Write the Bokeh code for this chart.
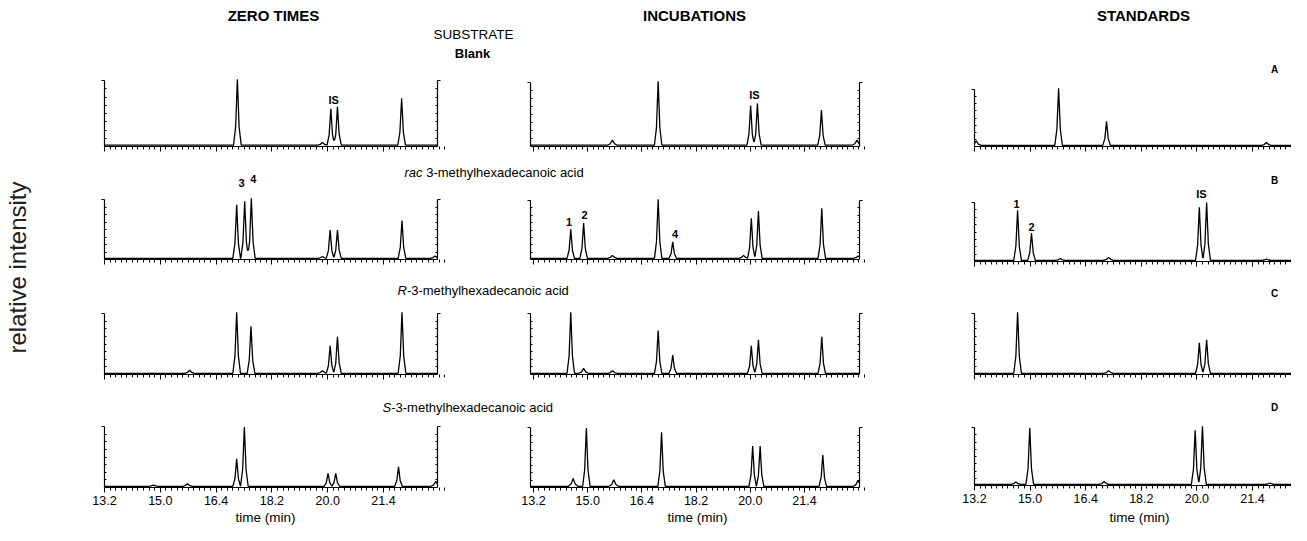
import math
from bokeh.plotting import figure
from bokeh.models import (Range1d, LinearAxis, FixedTicker, CustomJSTickFormatter,
                          Label, ColumnDataSource)
from bokeh.core.properties import value
from bokeh.embed import file_html
from bokeh.resources import INLINE

FONT = "Liberation Sans"

# ---------------- data ----------------
column_titles = ["ZERO TIMES", "INCUBATIONS", "STANDARDS"]
row_letters = ["A", "B", "C", "D"]
tick_pos = [13.2, 14.8, 16.4, 18.0, 19.6, 21.2]
tick_labels = ["13.2", "15.0", "16.4", "18.2", "20.0", "21.4"]

# peak retention times (min) and relative heights per panel
A1_t = [17.01, 19.45, 19.69, 19.88, 21.72]
A1_h = [1.00, 0.04, 0.55, 0.58, 0.71]
A2_t = [15.53, 16.88, 19.61, 19.81, 21.70, 22.75]
A2_h = [0.08, 1.00, 0.62, 0.65, 0.55, 0.08]
A3_t = [13.25, 15.62, 17.00, 21.60]
A3_h = [0.08, 1.00, 0.42, 0.05]

B1_t = [16.99, 17.22, 17.41, 19.45, 19.67, 19.88, 21.73, 22.68]
B1_h = [0.89, 0.95, 1.00, 0.03, 0.47, 0.47, 0.63, 0.04]
B2_t = [14.30, 14.68, 15.53, 16.88, 17.31, 19.40, 19.63, 19.84, 21.71, 22.78]
B2_h = [0.49, 0.60, 0.05, 1.00, 0.28, 0.05, 0.68, 0.80, 0.85, 0.04]
B3_t = [14.44, 14.84, 15.67, 17.06, 19.67, 19.88, 21.60]
B3_h = [0.85, 0.46, 0.03, 0.05, 0.90, 0.98, 0.02]

C1_t = [15.64, 16.99, 17.40, 19.45, 19.67, 19.88, 21.73]
C1_h = [0.05, 1.00, 0.77, 0.04, 0.45, 0.60, 1.00]
C2_t = [14.30, 14.68, 15.53, 16.88, 17.31, 19.63, 19.84, 21.71]
C2_h = [1.00, 0.08, 0.04, 0.70, 0.30, 0.45, 0.55, 0.60]
C3_t = [14.44, 17.06, 19.67, 19.88]
C3_h = [1.00, 0.04, 0.50, 0.55]

D1_t = [14.60, 15.58, 16.99, 17.21, 19.61, 19.83, 21.63, 22.70]
D1_h = [0.02, 0.04, 0.45, 0.97, 0.21, 0.21, 0.32, 0.08]
D2_t = [14.37, 14.76, 15.57, 16.98, 19.67, 19.89, 21.74, 22.78]
D2_h = [0.13, 0.97, 0.11, 0.90, 0.67, 0.67, 0.52, 0.10]
D3_t = [14.39, 14.79, 16.93, 19.55, 19.76, 21.70]
D3_h = [0.04, 0.97, 0.05, 0.93, 1.00, 0.02]

# peak labels per panel
A1_lab, A1_lt, A1_ly = ["IS"], [19.77], [0.70]
A2_lab, A2_lt, A2_ly = ["IS"], [19.72], [0.80]
B1_lab, B1_lt, B1_ly = ["3", "4"], [17.13, 17.47], [1.27, 1.34]
B2_lab, B2_lt, B2_ly = ["1", "2", "4"], [14.25, 14.71, 17.38], [0.64, 0.76, 0.44]
B3_lab, B3_lt, B3_ly = ["1", "2", "IS"], [14.41, 14.84, 19.73], [0.98, 0.58, 1.15]

# ---------------- layout (pixels inside the figure) ----------------
W, H = 1291, 525
col_x0 = [104, 533, 974]
col_step = [55.8, 54.2, 55.6]
col_lo = [13.2, 13.1, 13.2]
col_hi = [22.75, 22.82, 23.5]
col_right_axis = [True, True, False]
base_px = [[146, 146, 146], [259, 259, 261], [374, 374, 374], [487, 487, 485]]
top_px = [[80, 82, 89], [199, 200, 202], [313, 313, 313], [426, 427, 427]]

panels = {
    "A1": (A1_t, A1_h), "A2": (A2_t, A2_h), "A3": (A3_t, A3_h),
    "B1": (B1_t, B1_h), "B2": (B2_t, B2_h), "B3": (B3_t, B3_h),
    "C1": (C1_t, C1_h), "C2": (C2_t, C2_h), "C3": (C3_t, C3_h),
    "D1": (D1_t, D1_h), "D2": (D2_t, D2_h), "D3": (D3_t, D3_h),
}
peak_labels = {
    "A1": (A1_lab, A1_lt, A1_ly), "A2": (A2_lab, A2_lt, A2_ly),
    "B1": (B1_lab, B1_lt, B1_ly), "B2": (B2_lab, B2_lt, B2_ly),
    "B3": (B3_lab, B3_lt, B3_ly),
}

extra_x = {}
for c in range(3):
    k = W * 1.6 / col_step[c]
    start = 13.2 - col_x0[c] * 1.6 / col_step[c]
    extra_x["c%d" % (c + 1)] = Range1d(start, start + k)
extra_y = {}
for r in range(4):
    for c in range(3):
        b, t = base_px[r][c], top_px[r][c]
        extra_y["%s%d" % (row_letters[r], c + 1)] = Range1d(-(H - b) / (b - t), b / (b - t))

p = figure(width=W, height=H, x_range=Range1d(0, W), y_range=Range1d(H, 0),
           x_axis_type=None, y_axis_type=None, toolbar_location=None,
           output_backend="svg", min_border=0, outline_line_color=None,
           extra_x_ranges=extra_x, extra_y_ranges=extra_y)
p.background_fill_color = "white"
p.border_fill_color = "white"

# peak profile: narrow apex with a slightly wider foot (fractions of the half width)
PROFILE_X = [-1.0, -0.45, 0.0, 0.45, 1.0]
PROFILE_Y = [0.0, 0.28, 1.0, 0.28, 0.0]


def peak_val(x, t, h, w):
    u = (x - t) / w
    if u <= -1 or u >= 1:
        return 0.0
    for i in range(len(PROFILE_X) - 1):
        if PROFILE_X[i] <= u <= PROFILE_X[i + 1]:
            f = (u - PROFILE_X[i]) / (PROFILE_X[i + 1] - PROFILE_X[i])
            return h * (PROFILE_Y[i] + f * (PROFILE_Y[i + 1] - PROFILE_Y[i]))
    return 0.0


def trace(ts, hs, t0, t1, base=0.02):
    ws = [0.11 if h > 0.15 else 0.14 for h in hs]
    xs = {t0, t1}
    for t, w in zip(ts, ws):
        xs |= {t + w * u for u in PROFILE_X}
    xs = sorted(x for x in xs if t0 <= x <= t1)
    ys = [base + sum(peak_val(x, t, h, w) for t, h, w in zip(ts, hs, ws)) for x in xs]
    return xs, ys


minor = [round(13.2 + 0.16 * i, 2) for i in range(62)]
minor = [m for m in minor if all(abs(m - t) > 1e-6 for t in tick_pos)]
blank_fmt = CustomJSTickFormatter(code="return ''")


def side_axis(xr, key, loc):
    return LinearAxis(x_range_name=xr, y_range_name=key, fixed_location=loc, bounds=(0, 1),
                      ticker=FixedTicker(ticks=[1.0], minor_ticks=[i / 8 for i in range(1, 8)]),
                      formatter=blank_fmt, major_tick_out=3, major_tick_in=0,
                      minor_tick_in=2, minor_tick_out=0,
                      axis_line_color="black", axis_line_width=1.2,
                      major_tick_line_color="black", minor_tick_line_color="black")


for r in range(4):
    for c in range(3):
        key = "%s%d" % (row_letters[r], c + 1)
        xr = "c%d" % (c + 1)
        lo, hi = col_lo[c], col_hi[c]
        ts, hs = panels[key]
        xs, ys = trace(ts, hs, lo, min(hi, extra_x[xr].end))
        p.line(xs, ys, x_range_name=xr, y_range_name=key, line_color="black", line_width=1.3)

        labels = tick_labels if r == 3 else [""] * len(tick_labels)
        bx = LinearAxis(x_range_name=xr, y_range_name=key, fixed_location=0, bounds=(lo, hi),
                        ticker=FixedTicker(ticks=tick_pos, minor_ticks=minor),
                        formatter=CustomJSTickFormatter(args=dict(labels=labels),
                                                        code="return labels[index]"),
                        major_tick_out=5, major_tick_in=0, minor_tick_out=3, minor_tick_in=0,
                        axis_line_color="black", axis_line_width=1.2,
                        major_tick_line_color="black", minor_tick_line_color="black",
                        major_label_text_font=FONT, major_label_text_font_size="12.5px",
                        major_label_text_color="black", major_label_standoff=3)
        p.add_layout(bx, "below")
        p.add_layout(side_axis(xr, key, lo), "left")
        if col_right_axis[c]:
            p.add_layout(side_axis(xr, key, hi), "right")

        if key in peak_labels:
            lab_, lt, ly = peak_labels[key]
            src = ColumnDataSource(dict(t=lt, y=ly, txt=lab_))
            p.text(x="t", y="y", text="txt", source=src, x_range_name=xr, y_range_name=key,
                   text_font=value(FONT), text_font_style="bold", text_font_size="11px",
                   text_align="center", text_baseline="middle", text_color="black")


def lab(x, y, text, size="13px", style="normal", align="center", baseline="middle", angle=0.0,
        color="black"):
    p.add_layout(Label(x=x, y=y, text=text, text_font=FONT, text_font_size=size,
                       text_font_style=style, text_align=align, text_baseline=baseline,
                       angle=angle, text_color=color))


title_x = [273, 694, 1143]
for tx, tt in zip(title_x, column_titles):
    lab(tx, 15, tt, size="15px", style="bold")
lab(473, 34, "SUBSTRATE", size="13.5px")
lab(472, 53, "Blank", size="13px", style="bold")

lab(404, 172, "rac", style="italic", align="left")
lab(425.7, 172, "3-methylhexadecanoic acid", align="left")
lab(397, 290, "R", style="italic", align="left")
lab(406.4, 290, "-3-methylhexadecanoic acid", align="left")
lab(382, 407, "S", style="italic", align="left")
lab(390.7, 407, "-3-methylhexadecanoic acid", align="left")

for ly_, lt_ in zip([69, 180, 293, 407], row_letters):
    lab(1274, ly_, lt_, size="10px", style="bold")

for tx in [265, 697, 1139]:
    lab(tx, 524, "time (min)", size="13.5px", baseline="bottom")
lab(17, 267, "relative intensity", size="24px", angle=math.pi / 2, color="#222222")

open("out.html", "w").write(file_html(p, INLINE))
